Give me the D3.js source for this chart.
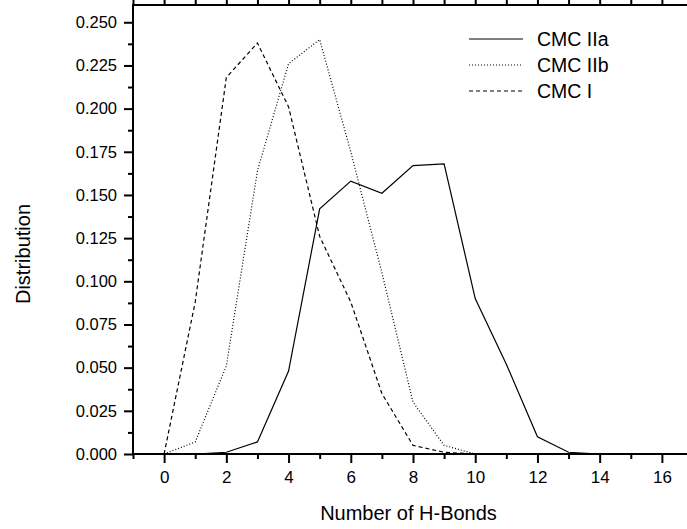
<!DOCTYPE html>
<html>
<head>
<meta charset="utf-8">
<script src="https://cdn.jsdelivr.net/npm/d3@7"></script>
<style>
	body { margin: 0; background: #fff; }
	svg { display: block; }
</style>
</head>
<body>
<svg width="687" height="529" font-family="'Liberation Sans', Arial, sans-serif"></svg>
<script>
(function() {
	'use strict';

	// number of H-bonds (x) and distribution per series
	const hBonds = [0, 1, 2, 3, 4, 5, 6, 7, 8, 9, 10, 11, 12, 13, 14, 15, 16];
	const cmcIIa = [0, 0, 0.001, 0.007, 0.048, 0.142, 0.158, 0.151, 0.167, 0.168, 0.090, 0.052, 0.010, 0.001, 0, 0, 0];
	const cmcIIb = [0, 0.007, 0.051, 0.164, 0.226, 0.240, 0.175, 0.105, 0.030, 0.005, 0];
	const cmcI = [0, 0.088, 0.218, 0.238, 0.201, 0.126, 0.088, 0.035, 0.005, 0.001, 0];
	const seriesNames = ['CMC IIa', 'CMC IIb', 'CMC I'];
	const seriesDash = [null, '1,2', '4,3'];
	const xTicks = [0, 2, 4, 6, 8, 10, 12, 14, 16];
	const yTicks = [0, 0.025, 0.05, 0.075, 0.1, 0.125, 0.15, 0.175, 0.2, 0.225, 0.25];

	const svg = d3.select('svg');
	const left = 133, right = 693, top = 5, bottom = 454;

	const x = d3.scaleLinear().domain([-1, 17]).range([left, right]);
	const y = d3.scaleLinear().domain([0, 0.26]).range([bottom, top]);

	const minorX = d3.range(-1, 18, 1).filter(function(d) { return d % 2 !== 0; });
	const minorY = d3.range(0.0125, 0.26, 0.025);

	// frame ticks
	function tickAxis(axisFn, scale, ticks, size, pos, labels) {
		const g = svg.append('g')
			.attr('transform', pos)
			.call(axisFn(scale).tickValues(ticks).tickSize(size).tickSizeOuter(0)
				.tickFormat(labels ? labels : ''));
		g.select('.domain').remove();
		g.selectAll('line').attr('stroke', '#000').attr('stroke-width', 2);
		return g;
	}

	const xb = tickAxis(d3.axisBottom, x, xTicks, 9, 'translate(0,' + bottom + ')', d3.format('d'));
	xb.selectAll('text').attr('font-size', 17).attr('fill', '#000').attr('dy', '1.15em').attr('y', 9);
	tickAxis(d3.axisBottom, x, minorX, 5, 'translate(0,' + bottom + ')');
	tickAxis(d3.axisBottom, x, xTicks, -9, 'translate(0,' + top + ')');
	tickAxis(d3.axisBottom, x, minorX, -5, 'translate(0,' + top + ')');

	const yl = tickAxis(d3.axisLeft, y, yTicks, 9, 'translate(' + left + ',0)', d3.format('.3f'));
	yl.selectAll('text').attr('font-size', 16.5).attr('fill', '#000').attr('x', -16);
	tickAxis(d3.axisLeft, y, minorY, 5, 'translate(' + left + ',0)');
	tickAxis(d3.axisLeft, y, yTicks, -9, 'translate(' + right + ',0)');
	tickAxis(d3.axisLeft, y, minorY, -5, 'translate(' + right + ',0)');

	svg.append('rect')
		.attr('x', left).attr('y', top)
		.attr('width', right - left).attr('height', bottom - top)
		.attr('fill', 'none').attr('stroke', '#000').attr('stroke-width', 2);

	// series lines
	const line = d3.line()
		.x(function(d) { return x(d[0]); })
		.y(function(d) { return y(d[1]); });

	const seriesData = [cmcIIa, cmcIIb, cmcI];
	seriesData.forEach(function(vals, i) {
		const pts = vals.map(function(v, j) { return [hBonds[j], v]; });
		svg.append('path')
			.datum(pts)
			.attr('d', line)
			.attr('fill', 'none')
			.attr('stroke', '#000')
			.attr('stroke-width', 1.2)
			.attr('stroke-dasharray', seriesDash[i]);
	});

	// legend
	const legend = svg.append('g');
	seriesNames.forEach(function(name, i) {
		const ly = 39 + i * 26;
		legend.append('line')
			.attr('x1', 469).attr('x2', 523)
			.attr('y1', ly).attr('y2', ly)
			.attr('stroke', '#000').attr('stroke-width', 1)
			.attr('stroke-dasharray', seriesDash[i]);
		legend.append('text')
			.attr('x', 537).attr('y', ly + 7)
			.attr('font-size', 19.5)
			.text(name);
	});

	// axis titles
	svg.append('text')
		.attr('x', (left + 680) / 2 + 2).attr('y', 520)
		.attr('text-anchor', 'middle')
		.attr('font-size', 20)
		.text('Number of H-Bonds');

	svg.append('text')
		.attr('transform', 'translate(30,254) rotate(-90)')
		.attr('text-anchor', 'middle')
		.attr('font-size', 20)
		.text('Distribution');
})();
</script>
</body>
</html>
